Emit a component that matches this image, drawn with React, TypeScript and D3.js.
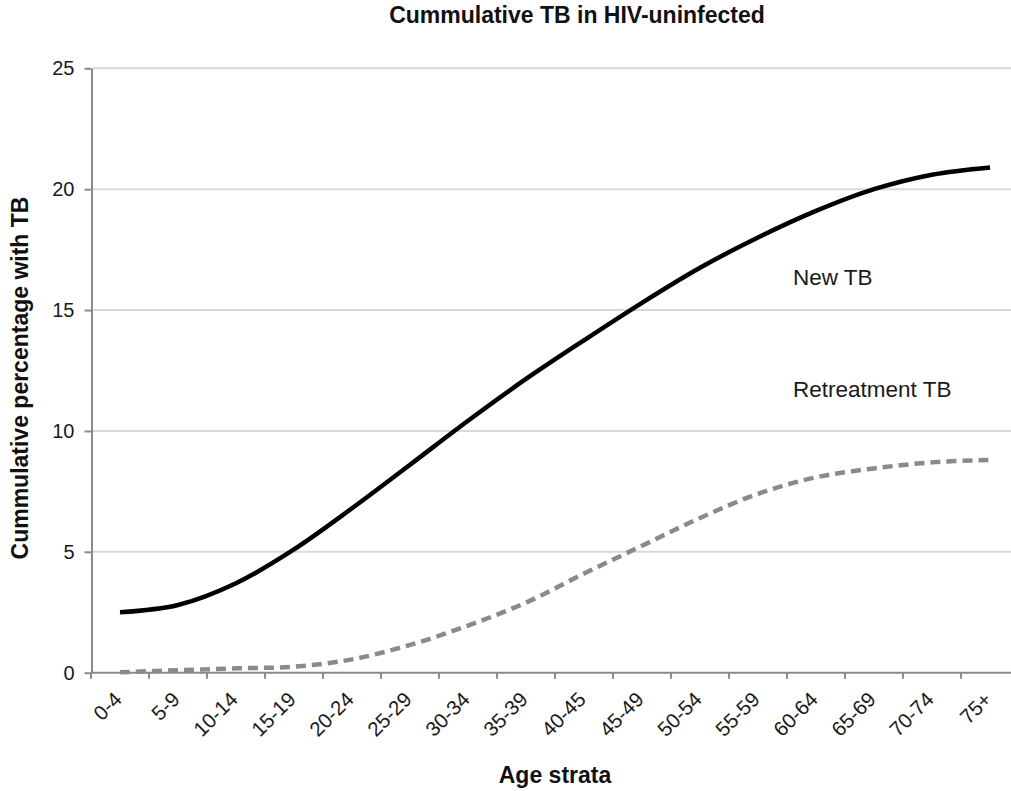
import React, { useEffect, useRef } from "react";
import * as d3 from "d3";

const categories = ["0-4", "5-9", "10-14", "15-19", "20-24", "25-29", "30-34", "35-39", "40-45", "45-49", "50-54", "55-59", "60-64", "65-69", "70-74", "75+"];
const newTB = [2.5, 2.8, 3.7, 5.1, 6.8, 8.6, 10.42, 12.15, 13.75, 15.3, 16.75, 18.0, 19.1, 20.0, 20.6, 20.9];
const retreatmentTB = [0.02, 0.1, 0.18, 0.25, 0.55, 1.15, 1.95, 2.9, 4.1, 5.25, 6.4, 7.4, 8.08, 8.45, 8.7, 8.8];
const yTicks = [0, 5, 10, 15, 20, 25];
const title = "Cummulative TB in HIV-uninfected";
const xTitle = "Age strata";
const yTitle = "Cummulative percentage with TB";
const seriesLabels = ["New TB", "Retreatment TB"];

const W = 1011;
const H = 791;
const FONT = "'Liberation Sans', Arial, Helvetica, sans-serif";

export default function App() {
  const ref = useRef<SVGSVGElement | null>(null);

  useEffect(() => {
    const svg = d3.select(ref.current);
    svg.selectAll("*").remove();

    const x = d3.scaleBand<string>().domain(categories).range([91, 1019]).paddingInner(0).paddingOuter(0);
    const y = d3.scaleLinear().domain([0, 25]).range([672.7, 68.3]);
    const cx = (c: string) => (x(c) as number) + x.bandwidth() / 2;

    // gridlines
    svg.append("g")
      .selectAll("line")
      .data(yTicks.filter((t) => t > 0))
      .join("line")
      .attr("x1", 92)
      .attr("x2", W)
      .attr("y1", (d) => y(d))
      .attr("y2", (d) => y(d))
      .attr("stroke", "#d9d9d9")
      .attr("stroke-width", 2);

    // y axis
    const yAxis = svg.append("g").attr("transform", "translate(91.5,0)")
      .call(d3.axisLeft(y).tickValues(yTicks).tickSize(7).tickSizeOuter(0).tickPadding(10));
    yAxis.select(".domain").attr("stroke", "#8a8a8a").attr("stroke-width", 2);
    yAxis.selectAll(".tick line").attr("stroke", "#8a8a8a").attr("stroke-width", 2);
    yAxis.selectAll(".tick text")
      .attr("font-family", FONT)
      .attr("font-size", 20)
      .attr("fill", "#1a1a1a");

    // x axis
    const boundaries = categories.map((c) => x(c) as number).concat([1019]);
    const xg = svg.append("g");
    xg.append("line")
      .attr("x1", 91).attr("x2", 1019)
      .attr("y1", y(0)).attr("y2", y(0))
      .attr("stroke", "#8a8a8a").attr("stroke-width", 2);
    xg.selectAll("line.tick")
      .data(boundaries)
      .join("line")
      .attr("class", "tick")
      .attr("x1", (d) => d).attr("x2", (d) => d)
      .attr("y1", y(0)).attr("y2", y(0) + 6)
      .attr("stroke", "#8a8a8a").attr("stroke-width", 2);
    xg.selectAll("text")
      .data(categories)
      .join("text")
      .attr("transform", (d) => `translate(${cx(d) + 3},${y(0) + 28}) rotate(-45)`)
      .attr("text-anchor", "end")
      .attr("font-family", FONT)
      .attr("font-size", 20.5)
      .attr("fill", "#1a1a1a")
      .text((d) => d);

    const line = d3.line<number>()
      .x((_, i) => cx(categories[i]))
      .y((d) => y(d))
      .curve(d3.curveCatmullRom.alpha(0.5));

    svg.append("path")
      .attr("d", line(retreatmentTB) as string)
      .attr("fill", "none")
      .attr("stroke", "#8a8a8a")
      .attr("stroke-width", 4.5)
      .attr("stroke-dasharray", "10,6");

    svg.append("path")
      .attr("d", line(newTB) as string)
      .attr("fill", "none")
      .attr("stroke", "#000")
      .attr("stroke-width", 4.5);

    // series labels
    svg.append("text").attr("x", 793).attr("y", 285)
      .attr("font-family", FONT).attr("font-size", 22.5).attr("fill", "#1a1a1a")
      .text(seriesLabels[0]);
    svg.append("text").attr("x", 793).attr("y", 397)
      .attr("font-family", FONT).attr("font-size", 22.5).attr("fill", "#1a1a1a")
      .text(seriesLabels[1]);

    // titles
    svg.append("text").attr("x", 577).attr("y", 23)
      .attr("text-anchor", "middle")
      .attr("font-family", FONT).attr("font-size", 23).attr("font-weight", "bold").attr("fill", "#111")
      .text(title);
    svg.append("text").attr("x", 555).attr("y", 783)
      .attr("text-anchor", "middle")
      .attr("font-family", FONT).attr("font-size", 23).attr("font-weight", "bold").attr("fill", "#111")
      .text(xTitle);
    svg.append("text")
      .attr("transform", "translate(28,378) rotate(-90)")
      .attr("text-anchor", "middle")
      .attr("font-family", FONT).attr("font-size", 23).attr("font-weight", "bold").attr("fill", "#111")
      .text(yTitle);
  }, []);

  return (
    <div style={{ position: "absolute", left: 0, top: 0, width: W, height: H, background: "#fff" }}>
      <svg ref={ref} width={W} height={H} style={{ display: "block", background: "#fff" }} />
    </div>
  );
}
